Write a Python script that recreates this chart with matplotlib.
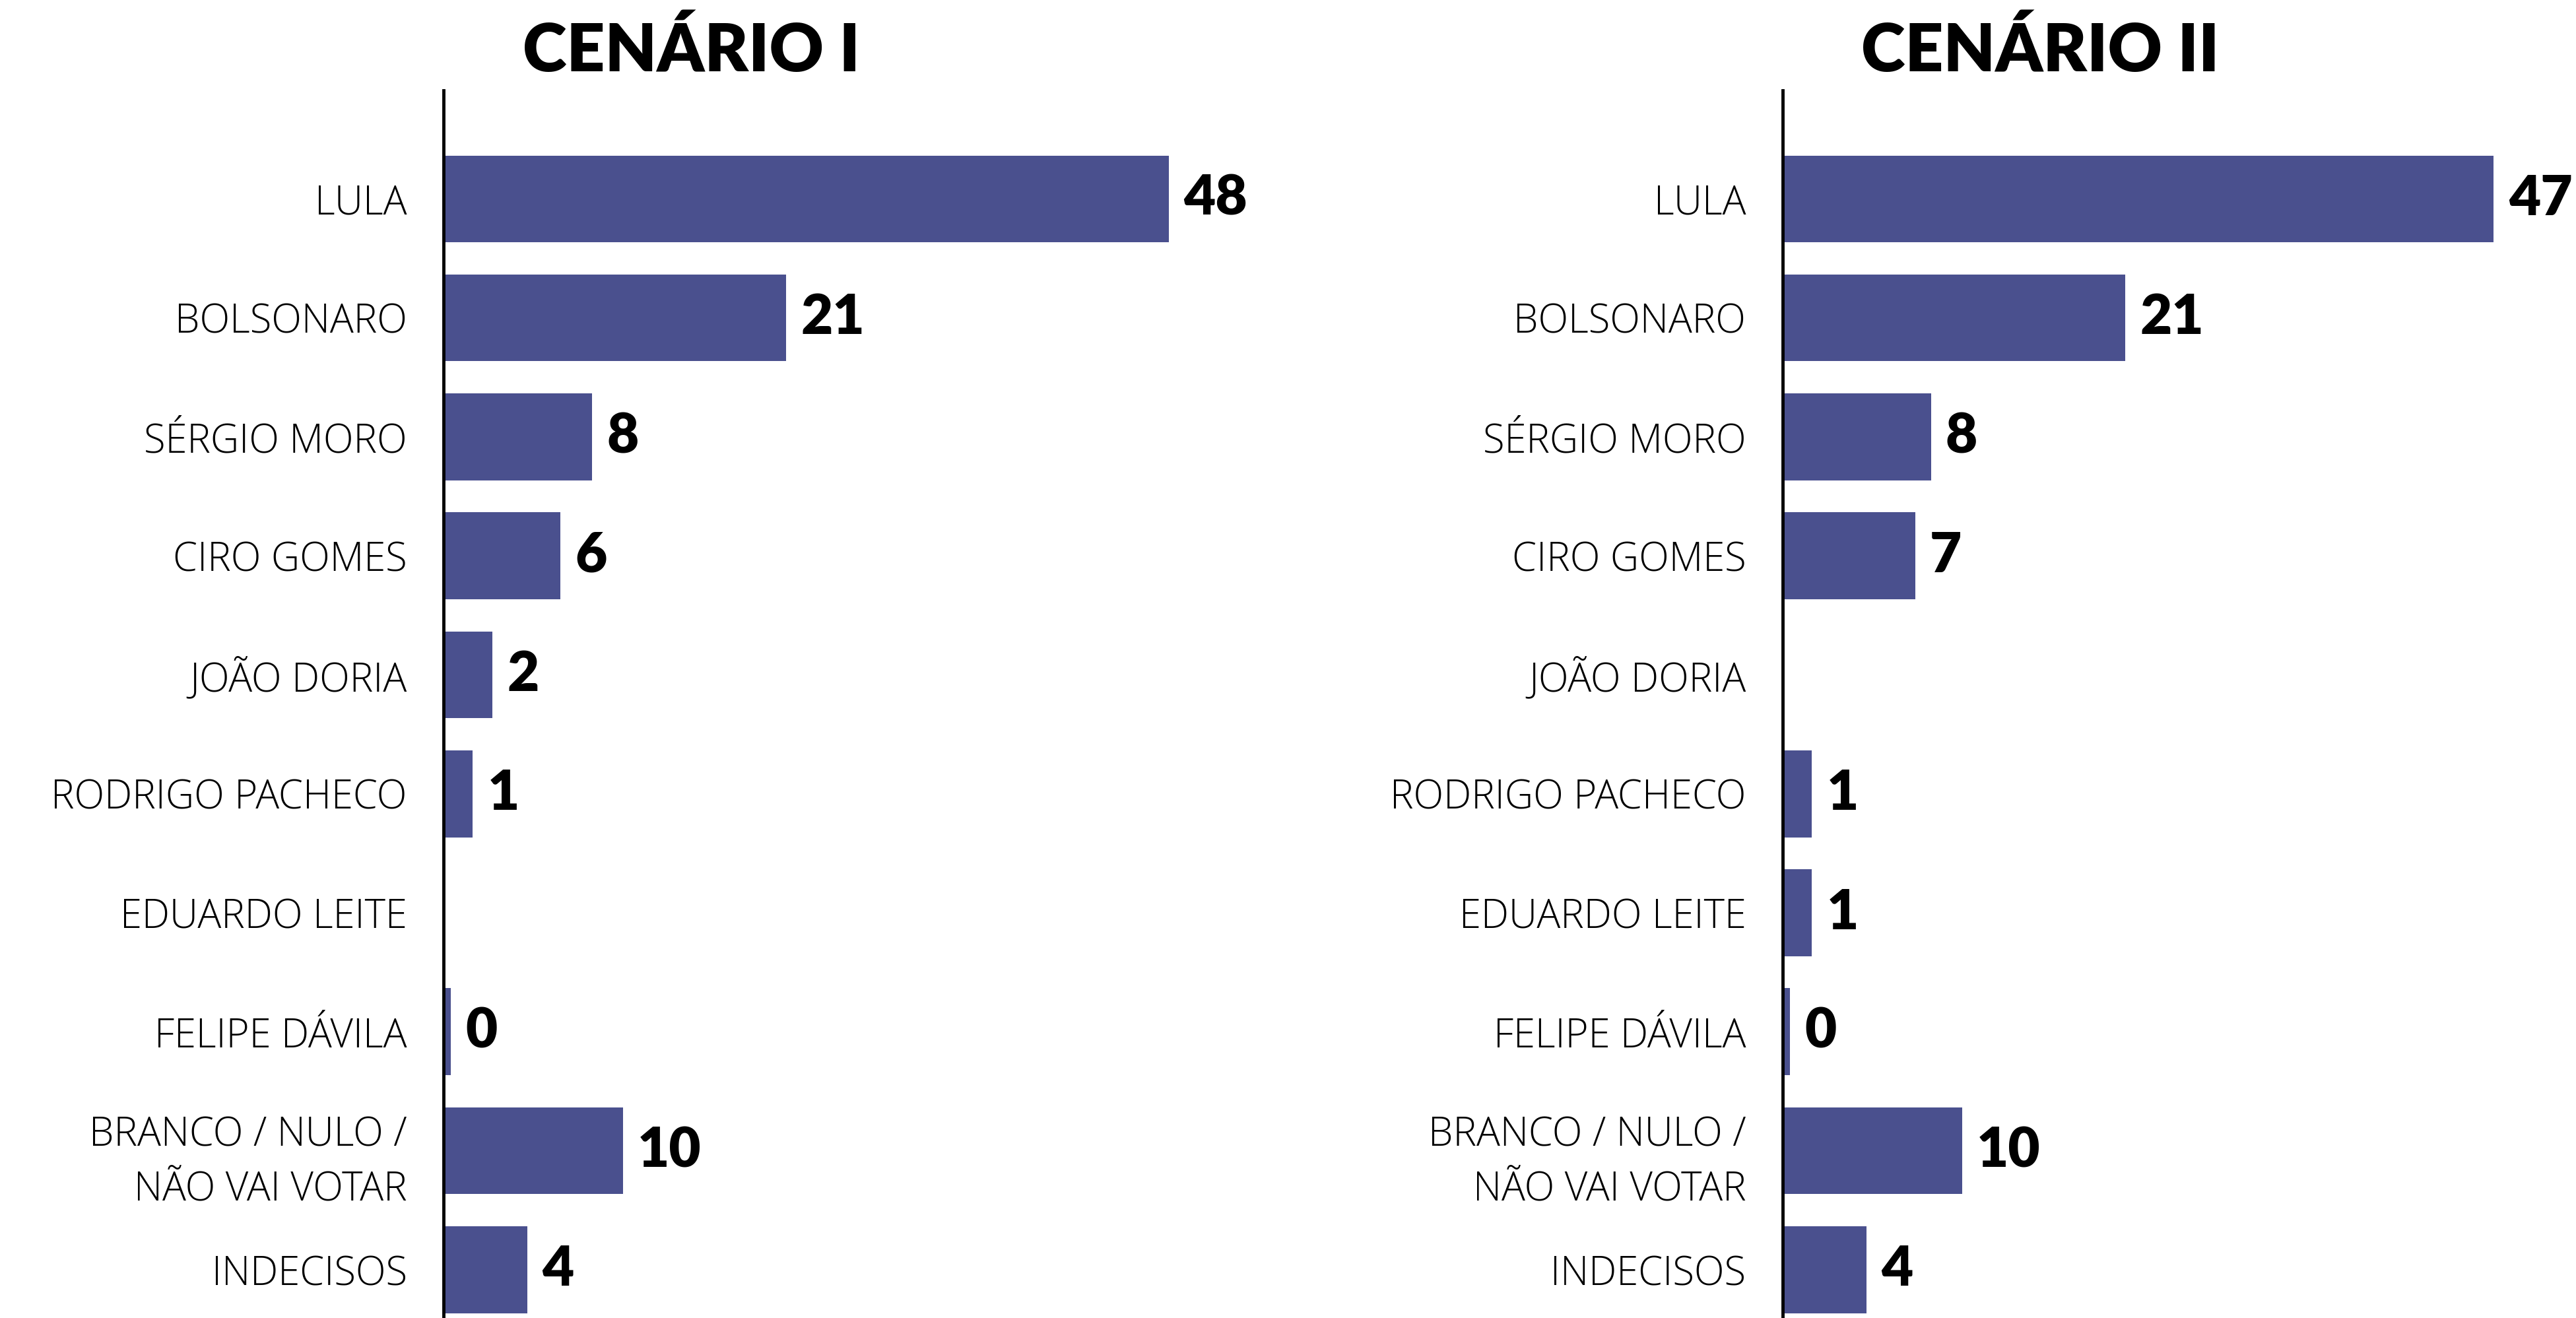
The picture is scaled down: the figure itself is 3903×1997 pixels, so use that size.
import numpy as np
import matplotlib
matplotlib.use('Agg')
import matplotlib.pyplot as plt
from matplotlib import rcParams
rcParams['font.family'] = ['Lato', 'DejaVu Sans']

# data
candidatos = ['LULA', 'BOLSONARO', 'SÉRGIO MORO', 'CIRO GOMES', 'JOÃO DORIA',
              'RODRIGO PACHECO', 'EDUARDO LEITE', 'FELIPE DÁVILA',
              'BRANCO / NULO /\nNÃO VAI VOTAR', 'INDECISOS']
cenario1 = [48, 21, 8, 6, 2, 1, None, 0, 10, 4]
cenario2 = [47, 21, 8, 7, None, 1, 1, 0, 10, 4]
titulos = ['CENÁRIO I', 'CENÁRIO II']

cor = '#4a508e'
# the original bars are not linear in the value: small ones are stretched,
# so use v + k*sqrt(v) as the x scale
K = 1.293


def fwd(v):
    v = np.clip(np.asarray(v, dtype=float), 0, None)
    return v + K * np.sqrt(v)


def inv(u):
    u = np.clip(np.asarray(u, dtype=float), 0, None)
    s = (-K + np.sqrt(K * K + 4 * u)) / 2
    return s * s


def painel(ax, vals):
    y = np.arange(len(candidatos))
    ax.set_xscale('function', functions=(fwd, inv))
    for i, v in enumerate(vals):
        if v is None:
            continue
        w = max(v, 0.12)
        ax.barh(i, w, height=0.73, color=cor, linewidth=0)
        ax.annotate(str(v), xy=(w, i), xytext=(16, 0), textcoords='offset points',
                    ha='left', va='center', fontsize=60, fontweight='heavy',
                    color='black')
    ax.set_xlim(0, 50)
    ax.set_ylim(9.406, -0.912)
    ax.set_yticks(y)
    ax.set_yticklabels(candidatos, fontsize=43, family=['Open Sans', 'DejaVu Sans'],
                       fontweight='light', linespacing=1.45, color='black')
    ax.tick_params(axis='y', length=0, pad=40)
    ax.set_xticks([])
    ax.minorticks_off()
    for s in ['top', 'right', 'bottom']:
        ax.spines[s].set_visible(False)
    ax.spines['left'].set_linewidth(3.5)
    ax.spines['left'].set_color('black')
    ax.patch.set_alpha(0)


fig = plt.figure(figsize=(39.03, 19.97), dpi=100)
ax1 = fig.add_axes([0.1722, 0.0, 0.2923, 0.9314])
ax2 = fig.add_axes([0.692, 0.0, 0.2923, 0.9314])
painel(ax1, cenario1)
painel(ax2, cenario2)

fig.text(0.2685, 0.961, titulos[0], ha='center', va='center', fontsize=73,
         fontweight='heavy')
fig.text(0.792, 0.961, titulos[1], ha='center', va='center', fontsize=73,
         fontweight='heavy')

fig.savefig('out.png', dpi=100)
